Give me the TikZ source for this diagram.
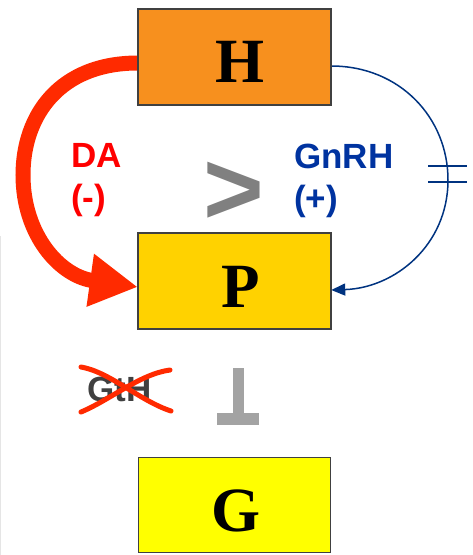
\documentclass[tikz,border=0pt]{standalone}
\usepackage{fontspec}
\setmainfont{Liberation Serif}
\setsansfont{Liberation Sans}
\usetikzlibrary{arrows.meta}
\definecolor{hfill}{HTML}{F7901E}
\definecolor{pfill}{HTML}{FFD200}
\definecolor{gfill}{HTML}{FFFF00}
\definecolor{daarrow}{HTML}{FF2A00}
\definecolor{datext}{HTML}{FF0000}
\definecolor{gntext}{HTML}{0033A0}
\definecolor{gnline}{HTML}{003380}
\definecolor{boxedge}{HTML}{404040}
\definecolor{gtgray}{HTML}{808080}
\definecolor{gthtext}{HTML}{404040}
\definecolor{inhgray}{HTML}{A3A3A3}

\begin{document}
\begin{tikzpicture}[x=1pt,y=-1pt,
  box/.style={draw=boxedge, line width=1.5pt, minimum width=192pt, minimum height=95pt, inner sep=0pt},
  letter/.style={font=\fontsize{63}{63}\selectfont\bfseries, anchor=base, inner sep=0pt},
  hormone/.style={font=\sffamily\bfseries\fontsize{35}{42}\selectfont, align=left, anchor=north west, inner sep=0pt},
]
\useasboundingbox (0,0) rectangle (472,555);

% faint rule at the left margin
\draw[black!10, line width=1pt] (0.5,236) -- (0.5,555);

% glands
\node[box, fill=hfill] (H) at (234.5,57) {};
\node[box, fill=pfill] (P) at (234.5,281) {};
\node[box, fill=gfill] (G) at (234.5,505) {};

% dopamine: strong inhibitory route H -> P
\draw[daarrow, line width=15pt, -{Triangle[length=48pt,width=50pt]}]
  ([yshift=-6pt]H.west) .. controls (60,63) and (23,115) .. (23,175)
  .. controls (23,235) and (60,276) .. ([yshift=-6pt]P.west);

% GnRH: weak stimulatory route H -> P
\draw[gnline, line width=1.5pt, -{Triangle[length=14pt,width=12pt]}]
  ([yshift=-9pt]H.east) .. controls (400,66) and (448,118) .. (448,180)
  .. controls (448,245) and (395,288) .. ([yshift=-9pt]P.east);
\draw[gnline, line width=1.5pt] (428,166) -- (467,166) (428,182) -- (467,182);

% redraw box outlines above the arrow ends
\draw[boxedge, line width=1.5pt] (H.north west) rectangle (H.south east);
\draw[boxedge, line width=1.5pt] (P.north west) rectangle (P.south east);

% letters
\node[letter] (hl) at (240.5,82) {H};
\node[letter] (pl) at (240.5,307) {P};
\node[letter] (gl) at (236,531) {G};

% labels
\node[hormone, text=datext] (da) at (71,143) {DA\\(-)};
\node[hormone, text=gntext] (gn) at (294,144) {GnRH\\(+)};
\node[font=\sffamily\bfseries\fontsize{104}{104}\selectfont, text=gtgray, inner sep=0pt] (gt) at (233.5,193.5) {>};

% crossed-out GtH
\node[font=\sffamily\bfseries\fontsize{35}{35}\selectfont, text=gthtext, anchor=base west, inner sep=0pt] (gth) at (87,401) {GtH};
\draw[daarrow, line width=5pt, line cap=round]
  (81,367) .. controls (110,372) and (140,401) .. (171,411);
\draw[daarrow, line width=5pt, line cap=round]
  (81,412) .. controls (110,400) and (140,374) .. (170,370);

% blocked P -> G
\fill[inhgray] (233,368) rectangle (244,414);
\fill[inhgray] (217,413) rectangle (259,425);
\end{tikzpicture}
\end{document}
